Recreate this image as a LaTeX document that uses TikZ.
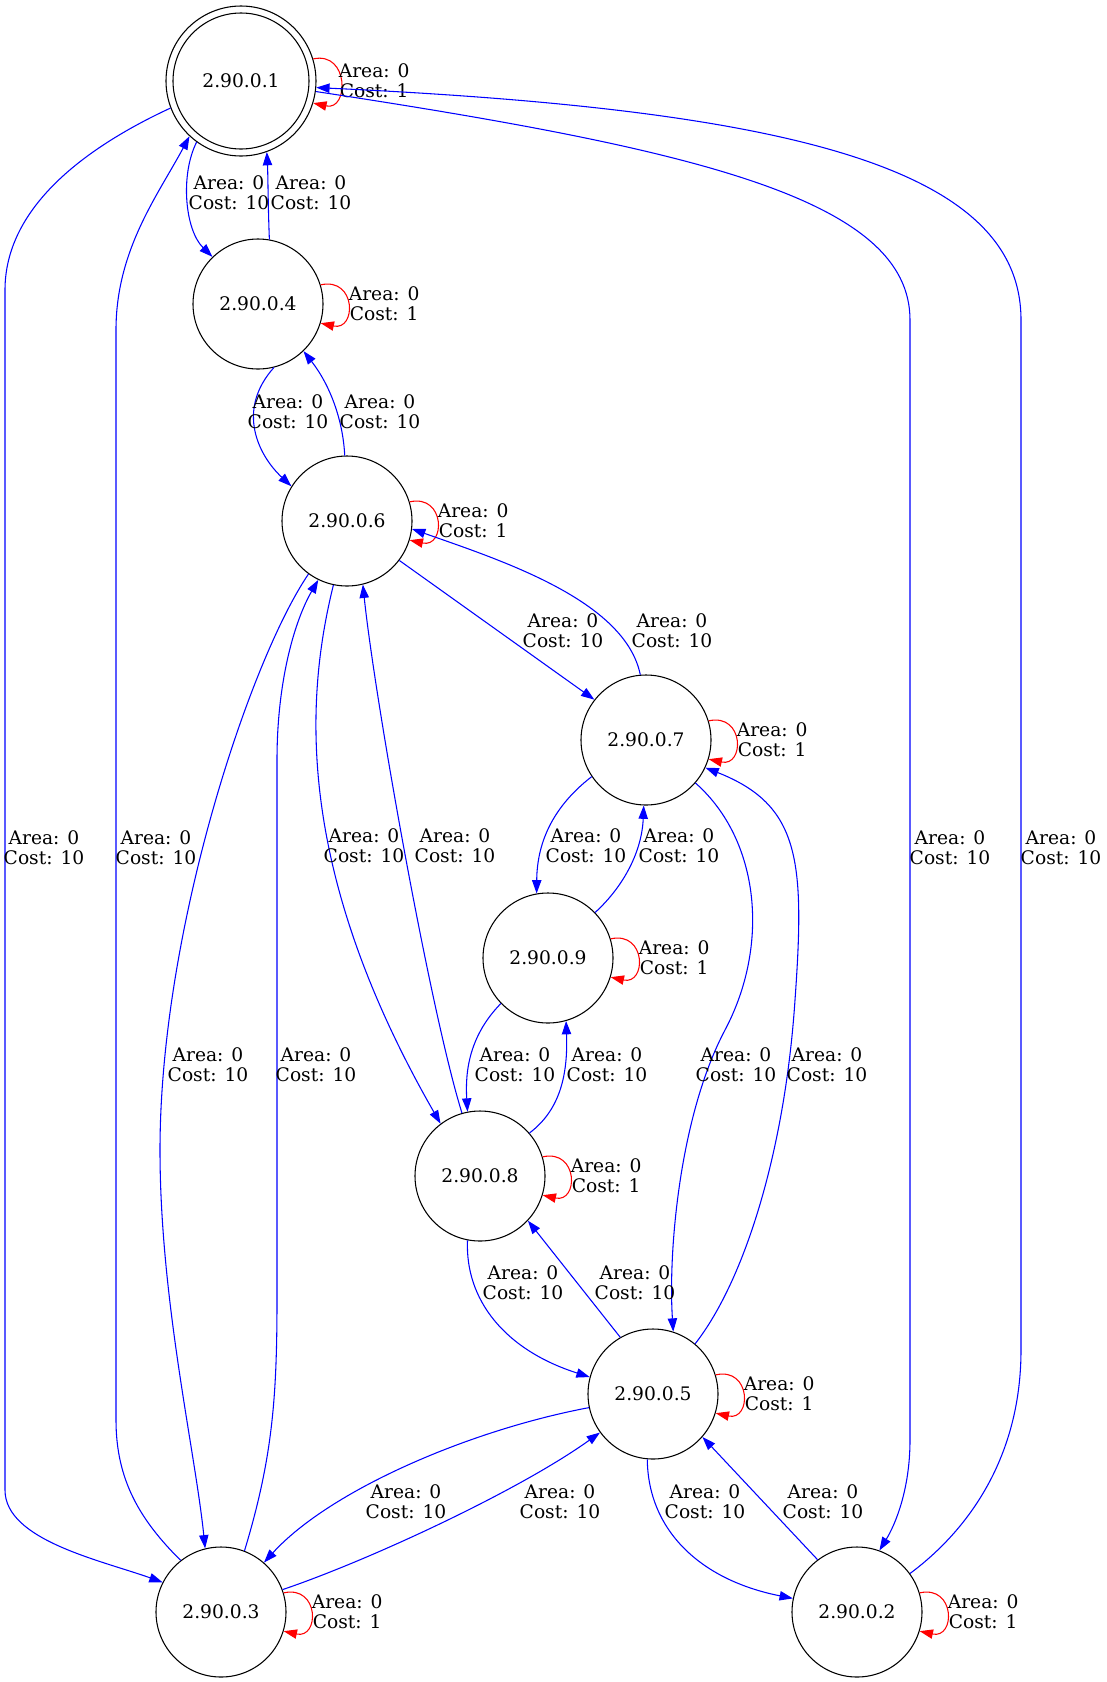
\documentclass[tikz,border=0pt]{standalone}
\usepackage{fontspec}
\setmainfont{DejaVu Serif}
\usetikzlibrary{arrows.meta,calc}
\begin{document}
\begin{tikzpicture}[x=0.75pt,y=-0.75pt,
  st/.style={circle,draw,line width=0.8pt,minimum size=97.5pt,inner sep=0pt,font=\fontsize{14}{15}\selectfont},
  be/.style={draw=blue,line width=0.8pt,-{Triangle[length=10pt,width=7pt]}},
  re/.style={draw=red,line width=0.8pt,-{Triangle[length=10pt,width=7pt]}},
  lb/.style={align=center,font=\fontsize{14}{15}\selectfont,inner sep=0pt}]
\useasboundingbox (0,0) rectangle (1107,1682);
% nodes
\node[st,minimum size=112.5pt] (n1) at (241,81) {2.90.0.1};
\draw[line width=0.8pt] (n1.center) circle[radius=68];
\node[st] (n4) at (258,304) {2.90.0.4};
\node[st] (n6) at (347,521) {2.90.0.6};
\node[st] (n7) at (646,740) {2.90.0.7};
\node[st] (n9) at (548,958) {2.90.0.9};
\node[st] (n8) at (480,1176) {2.90.0.8};
\node[st] (n5) at (653,1394) {2.90.0.5};
\node[st] (n3) at (221,1612) {2.90.0.3};
\node[st] (n2) at (857,1612) {2.90.0.2};
% self loops
\foreach \n in {n1,n4,n6,n7,n9,n8,n5,n3,n2}{
  \draw[re] (\n.17) .. controls +(36,-8) and +(36,8) .. (\n.-17);
}
\node[lb,anchor=west] (ll1) at ($(n1.east)+(22,0)$) {Area: 0\\Cost: 1};
\node[lb,anchor=west] (ll4) at ($(n4.east)+(25,0)$) {Area: 0\\Cost: 1};
\node[lb,anchor=west] (ll6) at ($(n6.east)+(25,0)$) {Area: 0\\Cost: 1};
\node[lb,anchor=west] (ll7) at ($(n7.east)+(25,0)$) {Area: 0\\Cost: 1};
\node[lb,anchor=west] (ll9) at ($(n9.east)+(25,0)$) {Area: 0\\Cost: 1};
\node[lb,anchor=west] (ll8) at ($(n8.east)+(25,0)$) {Area: 0\\Cost: 1};
\node[lb,anchor=west] (ll5) at ($(n5.east)+(25,0)$) {Area: 0\\Cost: 1};
\node[lb,anchor=west] (ll3) at ($(n3.east)+(25,0)$) {Area: 0\\Cost: 1};
\node[lb,anchor=west] (ll2) at ($(n2.east)+(25,0)$) {Area: 0\\Cost: 1};
% edges
\draw[be] (n1.234) .. controls (180,175) and (185,230) .. (n4.134);
\draw[be] (n4.80) .. controls (268,205) and (268,175) .. (n1.-70);
\draw[be] (n4.-76) .. controls (236,410) and (258,455) .. (n6.148);
\draw[be] (n6.92) .. controls (343,420) and (330,385) .. (n4.-46);
\draw[be] (n6.-37) -- (n7.142);
\draw[be] (n7.95) .. controls (625,600) and (500,560) .. (n6.-7);
\draw[be] (n7.-146) .. controls (555,805) and (537,840) .. (n9.100);
\draw[be] (n9.44) .. controls (625,885) and (642,850) .. (n7.-92);
\draw[be] (n9.-136) .. controls (470,1035) and (465,1070) .. (n8.101);
\draw[be] (n8.41) .. controls (560,1110) and (568,1075) .. (n9.-74);
\draw[be] (n6.-102) .. controls (305,700) and (295,870) .. (n8.127);
\draw[be] (n8.106) .. controls (430,1010) and (375,700) .. (n6.-76);
\draw[be] (n7.-41) .. controls (760,840) and (770,945) .. (725,1030) .. controls (680,1115) and (668,1250) .. (n5.72);
\draw[be] (n5.50) .. controls (745,1280) and (785,1150) .. (795,1000) .. controls (805,860) and (800,805) .. (n7.-25);
\draw[be] (n8.-101) .. controls (465,1300) and (505,1350) .. (n5.165);
\draw[be] (n5.120) -- (n8.-43);
\draw[be] (n5.-168) .. controls (470,1430) and (330,1490) .. (n3.49);
\draw[be] (n3.20) .. controls (370,1560) and (520,1490) .. (n5.-144);
\draw[be] (n5.-95) .. controls (648,1530) and (700,1580) .. (n2.168);
\draw[be] (n2.127) -- (n5.-41);
\draw[be] (n6.-126) .. controls (250,660) and (160,930) .. (160,1150) .. controls (160,1300) and (195,1450) .. (n3.104);
\draw[be] (n3.69) .. controls (272,1460) and (277,1400) .. (277,1300) -- (277,760) .. controls (277,680) and (295,620) .. (n6.-116);
\draw[be] (n1.201) .. controls (80,150) and (5,210) .. (5,290) -- (5,1490) .. controls (5,1540) and (100,1560) .. (n3.153);
\draw[be] (n3.128) .. controls (140,1520) and (116,1480) .. (116,1420) -- (116,330) .. controls (116,250) and (158,195) .. (n1.227);
\draw[be] (n1.-8) .. controls (700,150) and (910,200) .. (910,320) -- (910,1440) .. controls (910,1490) and (895,1525) .. (n2.70);
\draw[be] (n2.36) .. controls (975,1525) and (1021,1450) .. (1021,1350) -- (1021,320) .. controls (1021,170) and (800,110) .. (n1.-5);
% edge labels
\node[lb] (e14) at (229,193) {Area: 0\\Cost: 10};
\node[lb] (e41) at (311,193) {Area: 0\\Cost: 10};
\node[lb] (e46) at (288,412) {Area: 0\\Cost: 10};
\node[lb] (e64) at (380,412) {Area: 0\\Cost: 10};
\node[lb] (e67) at (563,631) {Area: 0\\Cost: 10};
\node[lb] (e76) at (672,631) {Area: 0\\Cost: 10};
\node[lb] (e79) at (586,846) {Area: 0\\Cost: 10};
\node[lb] (e97) at (679,846) {Area: 0\\Cost: 10};
\node[lb] (e68) at (364,846) {Area: 0\\Cost: 10};
\node[lb] (e86) at (455,846) {Area: 0\\Cost: 10};
\node[lb] (e13) at (44,848) {Area: 0\\Cost: 10};
\node[lb] (e31) at (156,848) {Area: 0\\Cost: 10};
\node[lb] (e12) at (950,848) {Area: 0\\Cost: 10};
\node[lb] (e21) at (1061,848) {Area: 0\\Cost: 10};
\node[lb] (e98) at (515,1065) {Area: 0\\Cost: 10};
\node[lb] (e89) at (607,1065) {Area: 0\\Cost: 10};
\node[lb] (e75) at (736,1065) {Area: 0\\Cost: 10};
\node[lb] (e57) at (827,1065) {Area: 0\\Cost: 10};
\node[lb] (e63) at (208,1065) {Area: 0\\Cost: 10};
\node[lb] (e36) at (316,1065) {Area: 0\\Cost: 10};
\node[lb] (e85) at (523,1283) {Area: 0\\Cost: 10};
\node[lb] (e58) at (635,1283) {Area: 0\\Cost: 10};
\node[lb] (e53) at (406,1502) {Area: 0\\Cost: 10};
\node[lb] (e35) at (560,1502) {Area: 0\\Cost: 10};
\node[lb] (e52) at (705,1502) {Area: 0\\Cost: 10};
\node[lb] (e25) at (823,1502) {Area: 0\\Cost: 10};
\end{tikzpicture}
\end{document}
